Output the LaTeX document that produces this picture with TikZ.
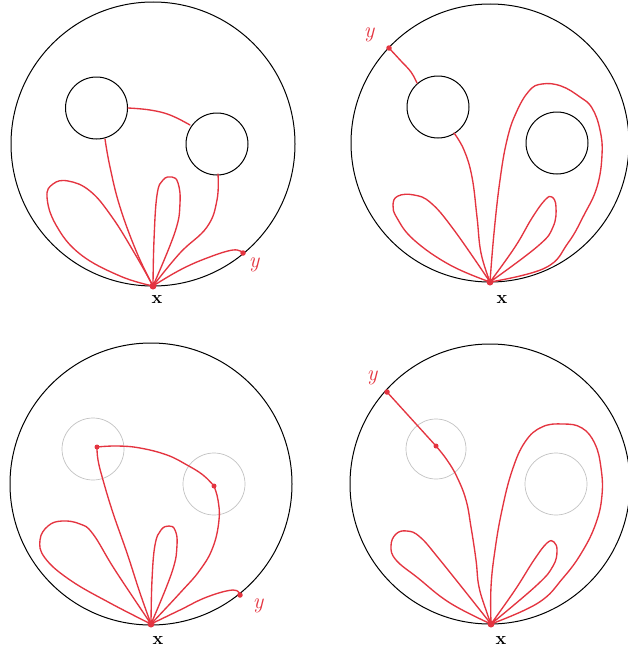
\documentclass[tikz,border=0pt]{standalone}
\begin{document}
\begin{tikzpicture}[x=1pt,y=-1pt]
\definecolor{pen}{RGB}{228,52,64}
\definecolor{ghostc}{RGB}{195,195,195}
\tikzset{
  disc/.style={draw=black,line width=1pt},
  hole/.style={draw=black,line width=1pt},
  ghost/.style={draw=ghostc,line width=0.7pt},
  redline/.style={draw=pen,line width=1.35pt,line join=round,line cap=round},
  dotx/.style={circle,fill=pen,inner sep=0pt,minimum size=7pt},
  doty/.style={circle,fill=pen,inner sep=0pt,minimum size=5.5pt},
  xlab/.style={font=\fontsize{18}{21}\selectfont\bfseries,inner sep=0pt},
  ylab/.style={font=\fontsize{22}{24}\selectfont\itshape,text=pen,inner sep=0pt},
}
\useasboundingbox (0,0) rectangle (628,653);
\fill[white] (0,0) rectangle (628,653);

% ---------------- Panel 1 ----------------
\draw[disc] (153,144) circle[radius=142pt];
\draw[hole] (96.5,108) circle[radius=31pt];
\draw[hole] (217,144) circle[radius=31pt];
\node[dotx] (x1) at (153,286) {};
\node[doty] (y1) at (243,253) {};
\node[xlab] (lx1) at (157,300) {x};
\node[ylab] (ly1) at (254,265) {y};
\coordinate (a1s) at (128,108);
\coordinate (b1s) at (190,125);
\coordinate (a1b) at (105,139);
\coordinate (b1b) at (218,174);
\draw[redline] plot[smooth,tension=0.7] coordinates {(a1s) (150,110) (170,115) (b1s)};
\draw[redline] plot[smooth,tension=0.7] coordinates {(a1b) (110,167) (120,207) (137,253) (x1.center)};
\draw[redline] plot[smooth,tension=0.7] coordinates {(b1b) (217,200) (207,227) (180,253) (x1.center)};
\draw[redline] plot[smooth,tension=0.7] coordinates {(x1.center) (120,276) (80,254) (56,225) (47,197) (53,184) (68,181) (90,191) (112,217) (135,254) (x1.center)};
\draw[redline] plot[smooth,tension=0.7] coordinates {(x1.center) (154,240) (157,195) (163,180) (172,177) (178,183) (180,203) (175,232) (x1.center)};
\draw[redline] plot[smooth,tension=0.7] coordinates {(x1.center) (180,270) (207,258) (233,250) (y1.center)};

% ---------------- Panel 2 ----------------
\draw[disc] (490,143) circle[radius=139pt];
\draw[hole] (438,107) circle[radius=31pt];
\draw[hole] (557,143) circle[radius=31pt];
\node[dotx] (x2) at (490,282) {};
\node[doty] (y2) at (389,48) {};
\node[xlab] (lx2) at (502,299) {x};
\node[ylab] (ly2) at (369,35) {y};
\coordinate (a2t) at (417,83);
\coordinate (a2b) at (454,133);
\draw[redline] plot[smooth,tension=0.7] coordinates {(y2.center) (401,61) (411,72) (a2t)};
\draw[redline] plot[smooth,tension=0.7] coordinates {(a2b) (464,150) (472,177) (477,217) (481,253) (x2.center)};
\draw[redline] plot[smooth,tension=0.7] coordinates {(x2.center) (450,265) (414,240) (397,218) (393,205) (398,196) (414,195) (431,203) (454,230) (x2.center)};
\draw[redline] plot[smooth,tension=0.7] coordinates {(x2.center) (494,233) (500,180) (507,140) (516,113) (529,91) (542,84) (561,86) (580,97) (592,108) (600,130) (602,155) (597,187) (584,215) (568,243) (545,268) (x2.center)};
\draw[redline] plot[smooth,tension=0.7] coordinates {(x2.center) (515,247) (532,218) (545,200) (552,197) (556,207) (553,227) (538,246) (x2.center)};

% ---------------- Panel 3 ----------------
\draw[disc] (151,484) circle[radius=141pt];
\draw[ghost] (93,449) circle[radius=31pt];
\draw[ghost] (214,484) circle[radius=31pt];
\node[dotx] (x3) at (151,624) {};
\node[doty] (y3) at (240,595) {};
\node[doty,minimum size=5pt] (d31) at (97,447) {};
\node[doty,minimum size=5pt] (d32) at (214,486) {};
\node[xlab] (lx3) at (158,640) {x};
\node[ylab] (ly3) at (258,606) {y};
\draw[redline] plot[smooth,tension=0.7] coordinates {(d31.center) (117,446) (140,448) (167,455) (187,465) (203,475) (d32.center)};
\draw[redline] plot[smooth,tension=0.7] coordinates {(d31.center) (98,460) (103,480) (113,513) (127,553) (140,593) (x3.center)};
\draw[redline] plot[smooth,tension=0.7] coordinates {(d32.center) (218,500) (219,520) (213,547) (200,570) (180,593) (x3.center)};
\draw[redline] plot[smooth,tension=0.7] coordinates {(x3.center) (110,603) (70,580) (45,558) (40,540) (48,526) (62,521) (80,524) (93,534) (115,570) (x3.center)};
\draw[redline] plot[smooth,tension=0.7] coordinates {(x3.center) (152,580) (155,545) (161,530) (169,526) (175,530) (177,545) (172,572) (x3.center)};
\draw[redline] plot[smooth,tension=0.7] coordinates {(x3.center) (180,610) (207,597) (233,590) (y3.center)};

% ---------------- Panel 4 ----------------
\draw[disc] (490,484) circle[radius=140pt];
\draw[ghost] (436,449) circle[radius=30pt];
\draw[ghost] (556,484) circle[radius=31pt];
\node[dotx] (x4) at (491,624) {};
\node[doty] (y4) at (387,392) {};
\node[doty,minimum size=5pt] (d41) at (436,446) {};
\node[xlab] (lx4) at (501,640) {x};
\node[ylab] (ly4) at (372,378) {y};
\draw[redline] (y4.center) -- (d41.center);
\draw[redline] plot[smooth,tension=0.7] coordinates {(d41.center) (447,460) (457,477) (466,500) (471,527) (476,560) (479,587) (487,613) (x4.center)};
\draw[redline] plot[smooth,tension=0.7] coordinates {(x4.center) (450,603) (418,578) (396,560) (391,546) (396,534) (407,531) (420,537) (440,560) (x4.center)};
\draw[redline] plot[smooth,tension=0.7] coordinates {(x4.center) (491,587) (495,550) (502,510) (512,471) (525,442) (542,427) (563,424) (582,428) (595,444) (601,468) (602,495) (596,523) (582,552) (563,578) (538,603) (x4.center)};
\draw[redline] plot[smooth,tension=0.7] coordinates {(x4.center) (515,590) (534,560) (547,543) (554,542) (557,551) (553,566) (537,585) (x4.center)};
\end{tikzpicture}
\end{document}
